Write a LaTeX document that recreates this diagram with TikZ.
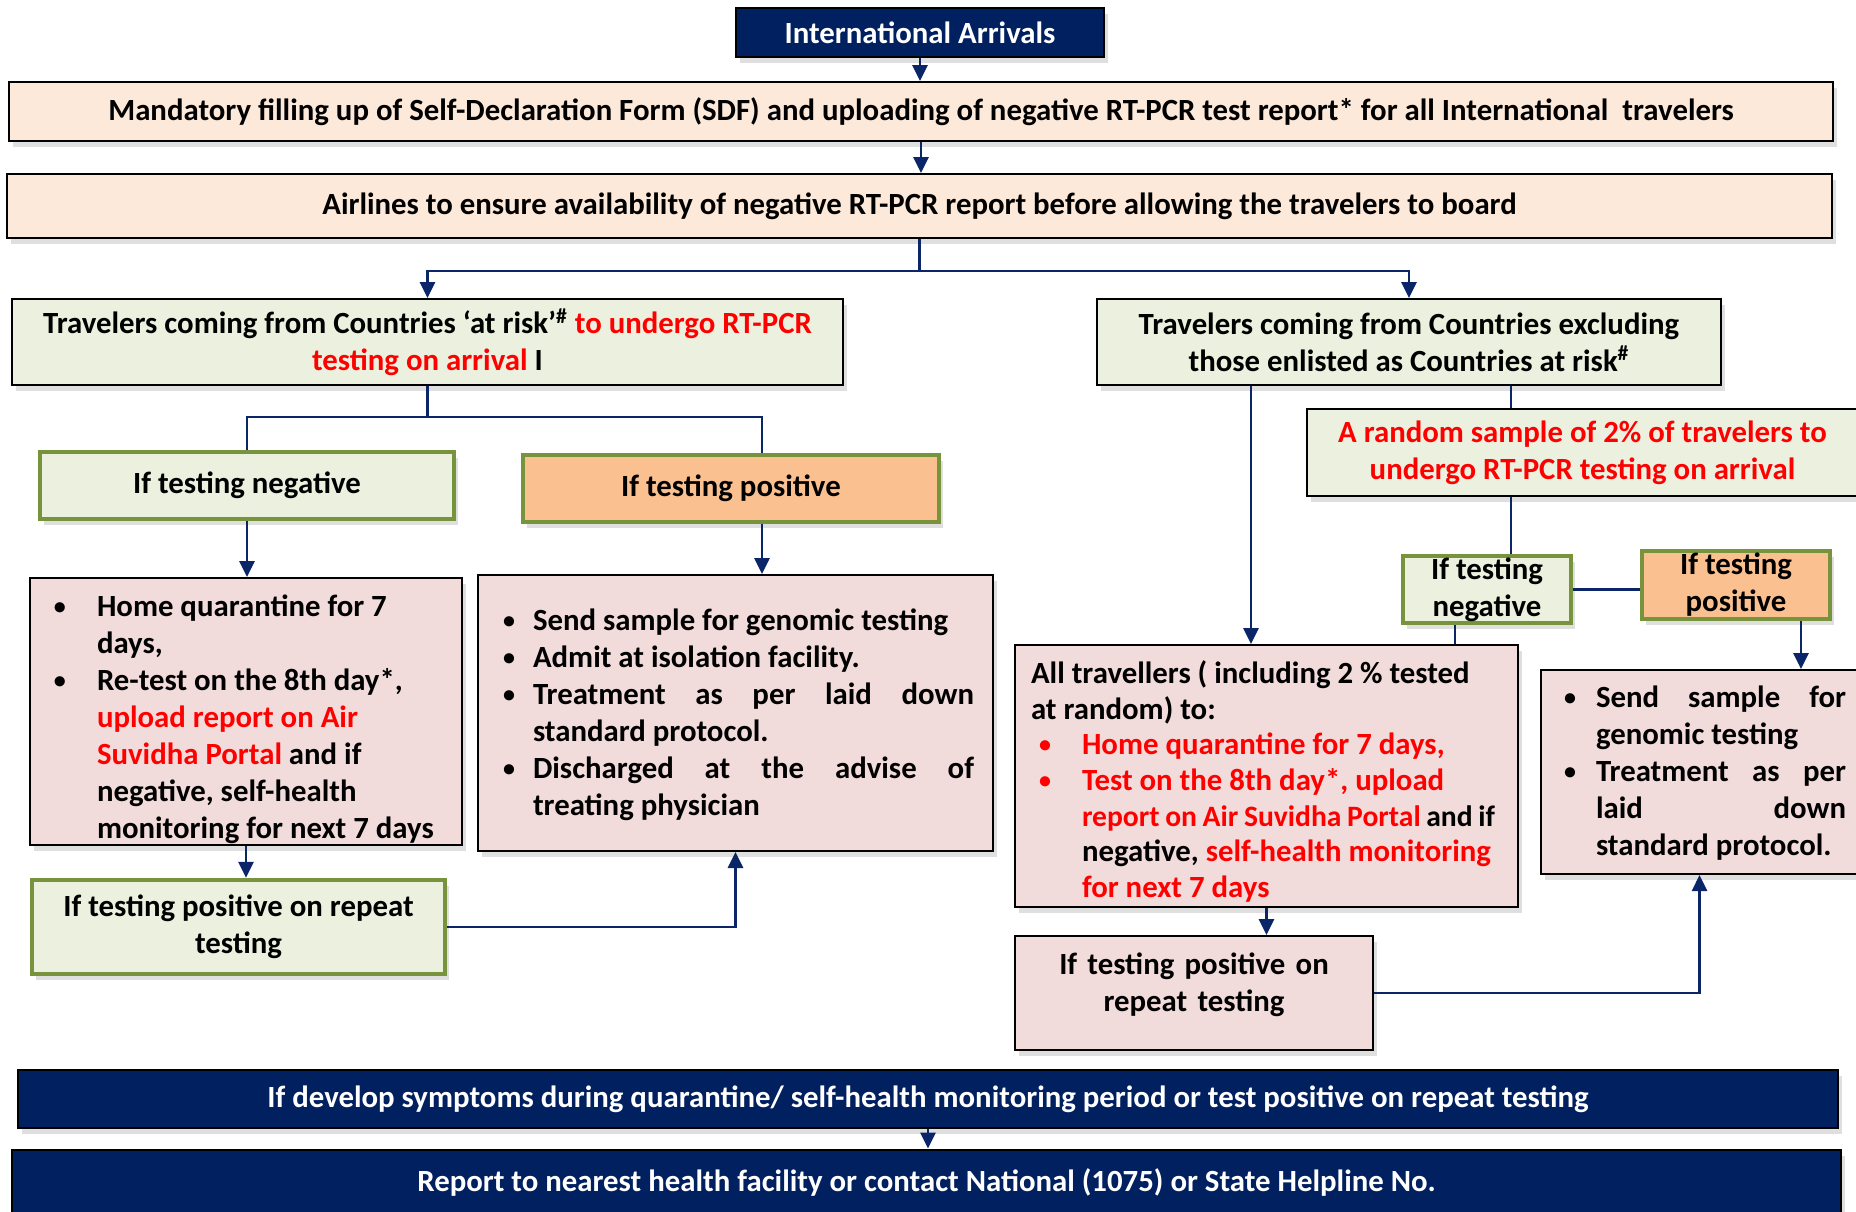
\documentclass[tikz,border=0pt]{standalone}
\usepackage{fontspec}
\setmainfont{Carlito}
\usepackage{enumitem}
\usetikzlibrary{arrows.meta,shadows}

\definecolor{boxnavy}{RGB}{0,32,96}
\definecolor{linkblue}{RGB}{10,38,105}
\definecolor{boxpeach}{RGB}{253,233,217}
\definecolor{boxgreen}{RGB}{235,241,222}
\definecolor{boxolive}{RGB}{119,147,60}
\definecolor{boxorange}{RGB}{250,192,144}
\definecolor{boxpink}{RGB}{242,220,219}

\newcommand{\rd}[1]{\textcolor{red}{#1}}
\newcommand{\dotmark}{\raisebox{1pt}{\fontsize{12}{12}\selectfont\textbullet}}
\newcommand{\lowstrut}[1]{\rule[-#1]{0pt}{0pt}}
\newlist{pts}{itemize}{1}
\setlist[pts]{label=\dotmark, nosep, labelsep=0pt, align=left}

\begin{document}
\begin{tikzpicture}[x=0.5pt,y=-0.5pt,
  font=\bfseries\fontsize{15.4}{18.5}\selectfont,
  box/.style={draw=black, line width=1pt, inner sep=0pt, align=center,
    drop shadow={shadow xshift=2pt, shadow yshift=-3pt, opacity=0.25}},
  navybox/.style={box, fill=boxnavy, text=white},
  peachbox/.style={box, fill=boxpeach},
  greenbox/.style={box, fill=boxgreen},
  negbox/.style={box, fill=boxgreen, draw=boxolive, line width=2.2pt},
  posbox/.style={box, fill=boxorange, draw=boxolive, line width=2.2pt},
  pinkbox/.style={box, fill=boxpink, align=justify},
  link/.style={draw=linkblue, line width=1.4pt},
  arrow/.style={link, -{Triangle[length=8pt,width=7.5pt]}}]
\useasboundingbox (0,0) rectangle (1856,1211);

% top of the chart
\node[navybox, minimum width=184pt, minimum height=24.5pt] (arr) at (920,32.5) {International Arrivals};
\node[peachbox, minimum width=912pt, minimum height=29.5pt] (sdf) at (921,111.5) {Mandatory filling up of Self-Declaration Form (SDF) and uploading of negative RT-PCR test report* for all International\ \ travelers};
\node[peachbox, minimum width=912.5pt, minimum height=32pt] (air) at (919.5,206) {Airlines to ensure availability of negative RT-PCR report before allowing the travelers to board};

\node[greenbox, minimum width=415.5pt, minimum height=43pt] (risk) at (427.5,342) {Travelers coming from Countries ‘at risk’\textsuperscript{\#} \rd{to undergo RT-PCR}\\ \rd{testing on arrival} I};
\node[greenbox, minimum width=312pt, minimum height=43pt] (excl) at (1409,342) {Travelers coming from Countries excluding\\ those enlisted as Countries at risk\textsuperscript{\#}};

% countries at risk
\node[negbox, minimum width=207pt, minimum height=33.5pt] (neg) at (247,485.5) {If testing negative};
\node[posbox, minimum width=208pt, minimum height=33.5pt] (pos) at (731,488.5) {If testing positive};

\node[pinkbox, text width=216pt, minimum height=133.5pt] (home) at (246,711.5) {%
  \begin{pts}[leftmargin=33.5pt, labelwidth=21.5pt, rightmargin=11pt]\raggedright
  \item Home quarantine for 7\\ days,
  \item Re-test on the 8th day*,\\ \rd{upload report on Air}\\ \rd{Suvidha Portal} and if\\ negative, self-health\\ monitoring for next 7 days
  \end{pts}};
\node[pinkbox, text width=257.5pt, minimum height=138pt] (iso) at (735.5,713) {%
  \begin{pts}[leftmargin=27.5pt, labelwidth=15pt, rightmargin=9.5pt]
  \item Send sample for genomic testing
  \item Admit at isolation facility.
  \item Treatment as per laid down\linebreak standard protocol.
  \item Discharged at the advise of\linebreak treating physician\lowstrut{8.5pt}
  \end{pts}};
\node[negbox, minimum width=206.5pt, minimum height=47pt] (rep1) at (238.5,927) {If testing positive on repeat\\ testing};

% other countries
\node[greenbox, text=red, minimum width=275.5pt, minimum height=43.5pt] (rand) at (1582.5,452.5) {A random sample of 2\% of travelers to\\ undergo RT-PCR testing on arrival};
\node[negbox, minimum width=84pt, minimum height=33.5pt] (sneg) at (1487,589.5) {If testing\\ negative};
\node[posbox, minimum width=94pt, minimum height=34pt] (spos) at (1736,585) {If testing\\ positive};

\node[pinkbox, inner xsep=8pt, text width=235.5pt, minimum height=131pt] (allt) at (1266.5,776) {%
  \fontsize{15.4}{17.8}\selectfont\raggedright
  \rule{0pt}{17pt}All travellers ( including 2 \% tested\\ at random) to:
  \begin{pts}[leftmargin=25.5pt, labelwidth=21.5pt, label=\rd{\dotmark}]
  \item \rd{Home quarantine for 7 days,}
  \item \rd{Test on the 8th day*, upload}\\ \mbox{\fontsize{14.8}{17.8}\selectfont\spaceskip=2.8pt\rd{report on Air Suvidha Portal} and if}\\ negative, \rd{self-health monitoring}\\ \rd{for next 7 days}
  \end{pts}};
\node[pinkbox, text width=158.5pt, minimum height=96pt] (gen) at (1699.5,772) {%
  \begin{pts}[leftmargin=27.5pt, labelwidth=16pt, rightmargin=6pt]
  \item Send sample for\linebreak genomic testing
  \item Treatment as per\linebreak laid down\linebreak \mbox{standard protocol.}\lowstrut{9.5pt}
  \end{pts}};
\node[pinkbox, align=center, text width=179pt, minimum height=57pt] (rep2) at (1194,993) {If testing positive on\\ repeat testing\lowstrut{11pt}};

% bottom of the chart
\node[navybox, minimum width=910pt, minimum height=29pt] (sym) at (928,1099) {If develop symptoms during quarantine/ self-health monitoring period or test positive on repeat testing};
\node[navybox, minimum width=914.5pt, minimum height=32.5pt] (rep) at (926.5,1182) {Report to nearest health facility or contact National (1075) or State Helpline No.};

\draw[arrow] (arr.south) -- (arr.south |- sdf.north);
\draw[arrow] (sdf.south) -- (sdf.south |- air.north);
\draw[link] (air.south) -- ++(0,32) coordinate (split);
\draw[arrow] (split) -| (risk.north);
\draw[arrow] (split) -| (excl.north);

\draw[link] (risk.south) -- ++(0,31) coordinate (fork);
\draw[link] (fork) -| (neg.north);
\draw[link] (fork) -| ([xshift=15.5pt]pos.north);
\draw[arrow] (neg.south) -- (neg.south |- home.north);
\draw[arrow] ([xshift=15.5pt]pos.south) -- ([xshift=15.5pt]pos.south |- iso.north);
\draw[arrow] (home.south) -- (home.south |- rep1.north);
\draw[arrow] (rep1.east) -| (iso.south);

\coordinate (allx) at ([xshift=-79pt]excl.south);
\coordinate (randx) at ([xshift=51pt]excl.south);
\draw[arrow] (allx) -- (allx |- allt.north);
\draw[link] (randx) -- (randx |- rand.north);
\draw[link] (randx |- rand.south) -- (randx |- sneg.north);
\draw[link] ([xshift=-16pt]sneg.south) -- ([xshift=-16pt]sneg.south |- allt.north);
\draw[link] (sneg.east) -- (sneg.east -| spos.west);
\draw[arrow] ([xshift=32.5pt]spos.south) -- ([xshift=32.5pt]spos.south |- gen.north);
\draw[arrow] (allt.south) -- (allt.south |- rep2.north);
\draw[arrow] (rep2.east) -| (gen.south);

\draw[arrow] (sym.south) -- (sym.south |- rep.north);
\end{tikzpicture}
\end{document}
